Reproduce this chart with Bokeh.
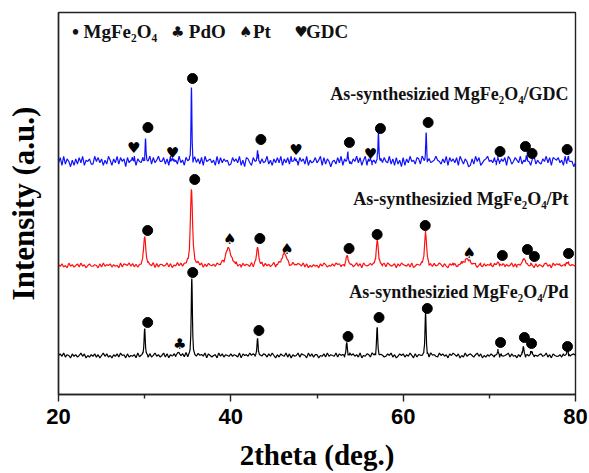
import numpy as np
from bokeh.plotting import figure
from bokeh.models import Label, FixedTicker
from bokeh.core.properties import value
from bokeh.embed import file_html
from bokeh.resources import INLINE

# ---------------- axis ----------------
X_START, X_END, X_STEP = 20.0, 80.0, 0.2
x_ticks = [20, 40, 60, 80]
x_minor_ticks = [30, 50, 70]
x_title = "2theta (deg.)"
y_title = "Intensity (a.u.)"

# ---------------- MgFe2O4/Pd (black) ----------------
pd_label = "As-synthesizied MgFe\u2082O\u2084/Pd"
pd_offset = 39
pd_peak_pos = [30.0, 33.9, 35.47, 43.1, 53.45, 56.98, 62.6, 71.0, 73.95, 74.9, 79.07]
pd_peak_hgt = [27, 3, 77, 17, 13, 28, 42, 4, 9, 4, 5]
pd_peak_wid = [0.08, 0.15, 0.08, 0.08, 0.08, 0.08, 0.08, 0.1, 0.08, 0.1, 0.1]
pd_noise = ("4637254163" "5247361425" "3625147362" "4153627451" "6243517246"
            "3516247352" "4726153624" "5362714253" "2645371642" "4517362543"
            "6354271645" "3746251436" "5263741526" "4372615347" "2654173625"
            "5143627354" "3726451627" "4635271436" "5274163542" "3647251364"
            "6253741625" "4365217453" "2746351647" "5361427356" "4257361425"
            "3642571634" "5726341527" "4153762435" "6347251643" "3526471356"
            "4637215264")
pd_spinel_x = [30.35, 35.58, 43.26, 53.6, 57.2, 62.8, 71.3, 74.07, 74.9, 79.07]
pd_spinel_y = [33, 83, 25, 19, 38, 47, 13, 18, 12, 9]
pd_pdo_x = [34.07]
pd_pdo_y = [12]

# ---------------- MgFe2O4/Pt (red) ----------------
pt_label = "As-synthesizied MgFe\u2082O\u2084/Pt"
pt_offset = 129
pt_peak_pos = [30.0, 35.43, 39.7, 43.1, 46.2, 53.5, 57.0, 62.6, 67.4, 71.0, 74.0, 79.0]
pt_peak_hgt = [29, 76, 18, 18, 12, 10, 25, 32, 7, 3, 7, 3]
pt_peak_wid = [0.15, 0.15, 0.35, 0.15, 0.35, 0.15, 0.15, 0.15, 0.4, 0.2, 0.2, 0.2]
pt_noise = ("5362417352" "4627351463" "3541627354" "6253417265" "4736251436"
            "2564371625" "5347261437" "3625471356" "4736152643" "5264371524"
            "3657241635" "4271635472" "6352471362" "2645137456" "5372614253"
            "4163752436" "3756241625" "5247361743" "4635271526" "2753461637"
            "5436271354" "3627415263" "4752631647" "6234751426" "3561472635"
            "4726351462" "5347261534" "2653741625" "4267351746" "5634127354"
            "3746251463")
pt_spinel_x = [30.35, 35.81, 43.37, 53.72, 56.98, 62.56, 71.51, 74.42, 75.23, 79.19]
pt_spinel_y = [35, 86, 27, 17, 31, 40, 10, 16, 9, 12]
pt_pt_x = [39.88, 46.51, 67.67]
pt_pt_y = [27, 17, 13]

# ---------------- MgFe2O4/GDC (blue) ----------------
gdc_label = "As-synthesizied MgFe\u2082O\u2084/GDC"
gdc_offset = 233
gdc_peak_pos = [28.57, 30.1, 33.2, 35.43, 43.1, 47.4, 53.57, 56.2, 57.13, 62.67, 71.0, 74.3, 79.15]
gdc_peak_hgt = [4, 23, 3, 74, 11, 3, 9, 2, 29, 29, 3, 6, 5]
gdc_peak_wid = [0.08, 0.06, 0.08, 0.06, 0.06, 0.08, 0.06, 0.08, 0.06, 0.06, 0.08, 0.06, 0.06]
gdc_noise = ("3718264051" "6273815462" "2847361528" "5163827460" "7352816437"
             "1648273584" "4726183652" "8351746207" "3627184563" "5182736451"
             "2746381507" "6317458263" "4825163738" "1637284561" "7462815347"
             "3581726404" "5273816462" "2648371581" "6715284637" "4382617250"
             "7163845276" "2857163458" "5426381746" "3718526401" "6284713568"
             "4537182647" "1862475382" "5374168253" "2648371765" "7351826440"
             "3826174557")
gdc_spinel_x = [30.38, 35.55, 43.49, 53.76, 57.36, 62.9, 71.24, 74.19, 74.96, 79.03]
gdc_spinel_y = [34, 83, 22, 19, 33, 39, 10, 15, 8, 12]
gdc_gdc_x = [28.72, 33.22, 47.56, 56.2]
gdc_gdc_y = [14, 9, 12, 8]

SERIF = "Liberation Serif"


def pattern(pos, hgt, wid, noise, scale, offset, eta):
    n = int(round((X_END - X_START) / X_STEP)) + 1
    xg = X_START + X_STEP * np.arange(n)
    ng = (np.array([int(c) for c in noise[:n]], dtype=float) - 4.0) * scale
    rel = np.array([-4, -2.5, -1.5, -1, -0.5, -0.2, 0, 0.2, 0.5, 1, 1.5, 2.5, 4])
    xf = np.concatenate([c + w * rel for c, w in zip(pos, wid)])
    x = np.concatenate([xg, xf])
    nz = np.concatenate([ng, np.zeros(len(xf))])
    order = np.argsort(x, kind="stable")
    x, nz = x[order], nz[order]
    prof = np.zeros_like(x)
    for c, h, w in zip(pos, hgt, wid):
        d = (x - c) / w
        prof += h * (eta / (1 + d * d) + (1 - eta) * np.exp(-np.log(2) * d * d))
    keep = (x >= X_START) & (x <= X_END)
    return x[keep], (offset + nz + prof)[keep]


p = figure(width=589, height=473, x_range=(X_START, X_END), y_range=(0, 382),
           output_backend="svg", toolbar_location=None,
           min_border_left=58, min_border_right=14, min_border_top=12, min_border_bottom=79)
p.background_fill_color = "white"
p.border_fill_color = "white"
p.outline_line_color = "#222222"
p.outline_line_width = 1.4
p.xgrid.visible = False
p.ygrid.visible = False

ax = p.xaxis[0]
ax.ticker = FixedTicker(ticks=x_ticks, minor_ticks=x_minor_ticks)
ax.axis_line_color = "#222222"
ax.axis_line_width = 1.4
ax.major_tick_line_color = "#222222"
ax.minor_tick_line_color = "#222222"
ax.major_tick_line_width = 1.4
ax.minor_tick_line_width = 1.4
ax.major_tick_in = 0
ax.major_tick_out = 7
ax.minor_tick_in = 0
ax.minor_tick_out = 4
ax.major_label_text_font = "Liberation Sans"
ax.major_label_text_font_style = "bold"
ax.major_label_text_font_size = "22px"
ax.major_label_text_color = "black"
ax.major_label_standoff = 7
ax.axis_label = x_title
ax.axis_label_text_font = SERIF
ax.axis_label_text_font_style = "bold"
ax.axis_label_text_font_size = "29px"
ax.axis_label_text_color = "black"
ax.axis_label_standoff = 12

ay = p.yaxis[0]
ay.ticker = FixedTicker(ticks=[])
ay.axis_line_color = "#222222"
ay.axis_line_width = 1.4
ay.major_tick_line_color = None
ay.minor_tick_line_color = None
ay.major_tick_in = 0
ay.major_tick_out = 0
ay.minor_tick_in = 0
ay.minor_tick_out = 0
ay.major_label_text_font_size = "0px"
ay.major_label_standoff = 0
ay.axis_label = y_title
ay.axis_label_text_font = SERIF
ay.axis_label_text_font_style = "bold"
ay.axis_label_text_font_size = "31px"
ay.axis_label_text_color = "black"
ay.axis_label_standoff = 18

series = [
    (pd_peak_pos, pd_peak_hgt, pd_peak_wid, pd_noise, 0.8, pd_offset, 0.5, "black"),
    (pt_peak_pos, pt_peak_hgt, pt_peak_wid, pt_noise, 0.8, pt_offset, 0.6, "#ff1010"),
    (gdc_peak_pos, gdc_peak_hgt, gdc_peak_wid, gdc_noise, 1.3, gdc_offset, 0.5, "#1010ff"),
]
for pos, hgt, wid, noise, sc, off, eta, col in series:
    xs, ys = pattern(pos, hgt, wid, noise, sc, off, eta)
    p.line(xs, ys, line_color=col, line_width=1.2)

# phase markers
for mx, my, off in [(pd_spinel_x, pd_spinel_y, pd_offset),
                    (pt_spinel_x, pt_spinel_y, pt_offset),
                    (gdc_spinel_x, gdc_spinel_y, gdc_offset)]:
    p.scatter(mx, [v + off for v in my], size=10, color="black", marker="circle")

for mx, my, off, sym in [(pd_pdo_x, pd_pdo_y, pd_offset, "\u2663"),
                         (pt_pt_x, pt_pt_y, pt_offset, "\u2660"),
                         (gdc_gdc_x, gdc_gdc_y, gdc_offset, "\u2665")]:
    p.text(mx, [v + off for v in my], text=[sym] * len(mx),
           text_font=value("DejaVu Sans"), text_font_size="15px",
           text_align="center", text_baseline="middle", text_color="black")

# series labels
for lab, yb in [(gdc_label, 301), (pt_label, 196), (pd_label, 103)]:
    p.add_layout(Label(x=79.2, y=yb, text=lab, text_align="right",
                       text_baseline="alphabetic", text_font=SERIF,
                       text_font_style="bold", text_font_size="18px",
                       text_color="#111111"))

# legend row
legend_items = [
    (21.98, "\u2022", SERIF, "20px", "center"),
    (22.9, "MgFe\u2082O\u2084", SERIF, "19px", "left"),
    (33.84, "\u2663", "DejaVu Sans", "15px", "center"),
    (35.12, "PdO", SERIF, "19px", "left"),
    (41.74, "\u2660", "DejaVu Sans", "15px", "center"),
    (42.56, "Pt", SERIF, "19px", "left"),
    (48.14, "\u2665", "DejaVu Sans", "15px", "center"),
    (48.72, "GDC", SERIF, "19px", "left"),
]
for lx, lt, lf, ls, la in legend_items:
    p.add_layout(Label(x=lx, y=363, text=lt, text_align=la, text_baseline="alphabetic",
                       text_font=lf, text_font_style="bold", text_font_size=ls,
                       text_color="#111111"))

open("out.html", "w").write(file_html(p, INLINE))
